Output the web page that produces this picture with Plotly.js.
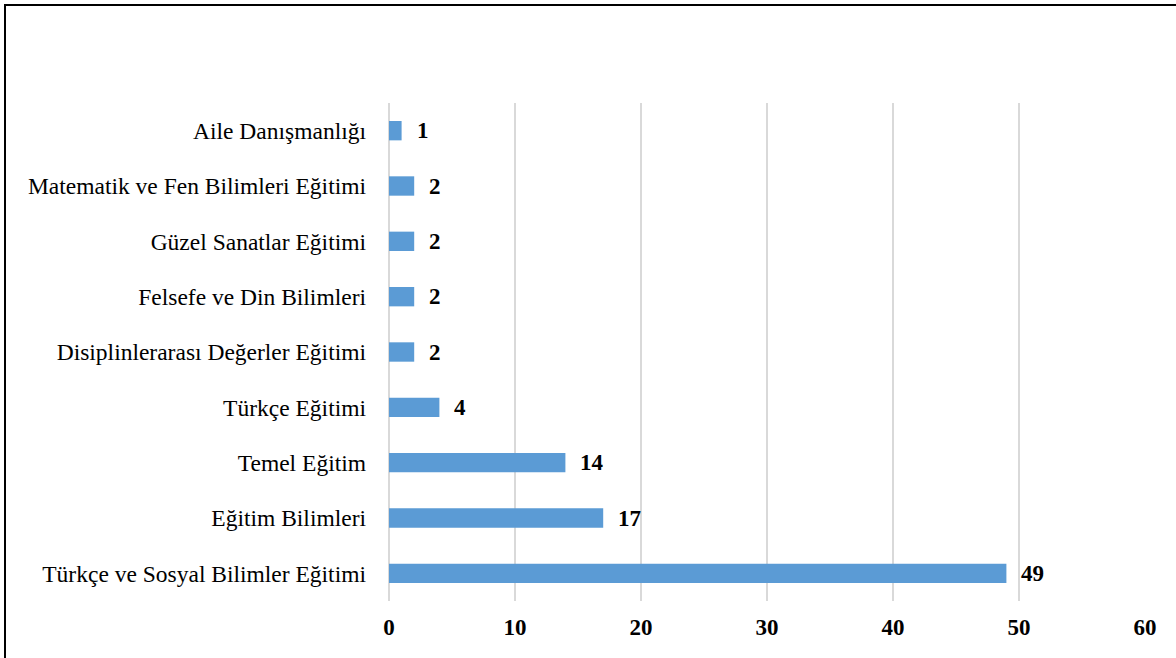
<!DOCTYPE html>
<html>
<head>
<meta charset="utf-8">
<script src="https://cdn.plot.ly/plotly-3.0.1.min.js"></script>
<style>
html,body{margin:0;padding:0;background:#fff;overflow:hidden;}
#chart{width:1176px;height:658px;}
#frame{position:absolute;left:4px;top:4px;width:1200px;height:700px;border-left:2px solid #000;border-top:2px solid #000;pointer-events:none;}
</style>
</head>
<body>
<div id="chart"></div>
<div id="frame"></div>
<script>
const categories = [
  "Türkçe ve Sosyal Bilimler Eğitimi",
  "Eğitim Bilimleri",
  "Temel Eğitim",
  "Türkçe Eğitimi",
  "Disiplinlerarası Değerler Eğitimi",
  "Felsefe ve Din Bilimleri",
  "Güzel Sanatlar Eğitimi",
  "Matematik ve Fen Bilimleri Eğitimi",
  "Aile Danışmanlığı"
];
const counts = [49, 17, 14, 4, 2, 2, 2, 2, 1];
const xTicks = [0, 10, 20, 30, 40, 50, 60];

const serif = "Liberation Serif, Times New Roman, serif";

const trace = {
  type: 'bar',
  orientation: 'h',
  x: counts,
  y: categories,
  width: 0.35,
  marker: {color: '#5B9BD5'},
  hoverinfo: 'none'
};

const annotations = counts.map((v, i) => ({
  x: v, y: categories[i], xref: 'x', yref: 'y',
  text: String(v), showarrow: false, xanchor: 'left', yanchor: 'middle',
  xshift: 13,
  font: {family: serif, size: 23, color: '#000', weight: 'bold'}
}));

const layout = {
  width: 1176, height: 658,
  margin: {l: 389, r: 31, t: 103, b: 57},
  paper_bgcolor: '#fff', plot_bgcolor: '#fff',
  showlegend: false,
  font: {family: serif},
  xaxis: {
    range: [0, 60],
    tickvals: xTicks,
    ticktext: xTicks.map(String),
    showgrid: true, gridcolor: '#D9D9D9', gridwidth: 1.3,
    zeroline: true, zerolinecolor: '#D9D9D9', zerolinewidth: 1.3,
    showline: false, ticks: '',
    ticklabelstandoff: 10,
    tickfont: {family: serif, size: 23, color: '#000', weight: 'bold'},
    fixedrange: true
  },
  yaxis: {
    type: 'category',
    categoryorder: 'array',
    categoryarray: categories,
    range: [-0.5, 8.5],
    showgrid: false, zeroline: false, showline: false, ticks: '',
    ticklabelstandoff: 22,
    tickfont: {family: serif, size: 23.5, color: '#000'},
    fixedrange: true
  },
  annotations: annotations
};

Plotly.newPlot('chart', [trace], layout, {displayModeBar: false, staticPlot: true});
</script>
</body>
</html>
